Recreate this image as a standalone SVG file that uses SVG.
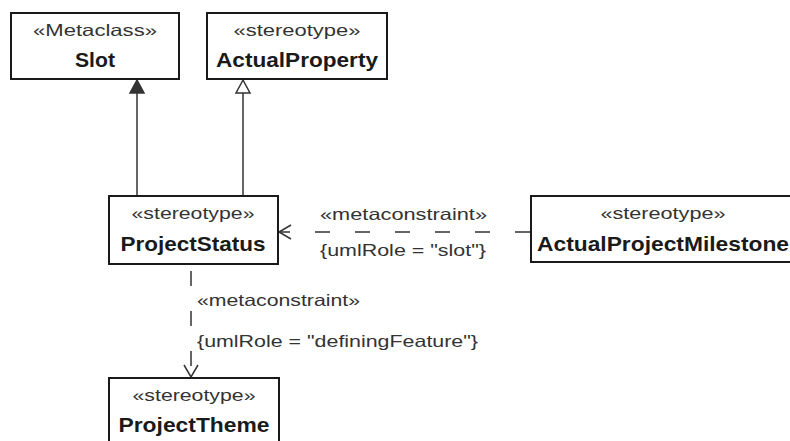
<svg xmlns="http://www.w3.org/2000/svg" width="790" height="441" viewBox="0 0 790 441">
<style>
.box{fill:#ffffff;stroke:#1a1a1a;stroke-width:2}
.st{font-family:"Liberation Sans",Arial,sans-serif;font-size:16.5px;fill:#333333;text-anchor:middle}
.nm{font-family:"Liberation Sans",Arial,sans-serif;font-size:21px;font-weight:bold;fill:#1a1a1a;text-anchor:middle}
.lbl{font-family:"Liberation Sans",Arial,sans-serif;font-size:16.5px;fill:#333333}
.ln{fill:none;stroke:#333333;stroke-width:1.5}
.dash{fill:none;stroke:#333333;stroke-width:1.5;stroke-dasharray:15 25}
</style>
<rect width="790" height="441" fill="#ffffff"/>
<g id="connectors">
<g id="gen-slot">
<line class="ln" x1="137" y1="195" x2="137" y2="93"/>
<polygon points="137,80 130,93 144,93" fill="#333333" stroke="#333333" stroke-width="1.5"/>
</g>
<g id="gen-actualproperty">
<line class="ln" x1="243" y1="195" x2="243" y2="93"/>
<polygon points="243,80 236,93 250,93" fill="#ffffff" stroke="#333333" stroke-width="1.5"/>
</g>
<g id="dep-milestone">
<line class="dash" x1="530" y1="232" x2="279" y2="232"/>
<polyline class="ln" points="291,225 279,232 291,239"/>
<text class="lbl" x="320" y="220" textLength="167" lengthAdjust="spacingAndGlyphs">«metaconstraint»</text>
<text class="lbl" x="320" y="256" textLength="166" lengthAdjust="spacingAndGlyphs">{umlRole = "slot"}</text>
</g>
<g id="dep-theme">
<line class="dash" x1="191" y1="266" x2="191" y2="376" stroke-dashoffset="-5"/>
<polyline class="ln" points="184,365 191,377 198,365"/>
<text class="lbl" x="197" y="306" textLength="163" lengthAdjust="spacingAndGlyphs">«metaconstraint»</text>
<text class="lbl" x="197" y="347" textLength="281" lengthAdjust="spacingAndGlyphs">{umlRole = "definingFeature"}</text>
</g>
</g>
<g id="slot">
<rect class="box" x="11" y="13" width="168" height="66"/>
<text class="st" x="95" y="36" textLength="124" lengthAdjust="spacingAndGlyphs">«Metaclass»</text>
<text class="nm" x="95" y="67" textLength="40" lengthAdjust="spacingAndGlyphs">Slot</text>
</g>
<g id="actualproperty">
<rect class="box" x="207" y="13" width="180" height="66"/>
<text class="st" x="297" y="36" textLength="127" lengthAdjust="spacingAndGlyphs">«stereotype»</text>
<text class="nm" x="297" y="67" textLength="162" lengthAdjust="spacingAndGlyphs">ActualProperty</text>
</g>
<g id="projectstatus">
<rect class="box" x="109" y="196" width="169" height="68"/>
<text class="st" x="193" y="219" textLength="123" lengthAdjust="spacingAndGlyphs">«stereotype»</text>
<text class="nm" x="193" y="251" textLength="145" lengthAdjust="spacingAndGlyphs">ProjectStatus</text>
</g>
<g id="actualprojectmilestone">
<rect class="box" x="531" y="196" width="266" height="66"/>
<text class="st" x="663" y="219" textLength="125" lengthAdjust="spacingAndGlyphs">«stereotype»</text>
<text class="nm" x="663" y="251" textLength="252" lengthAdjust="spacingAndGlyphs">ActualProjectMilestone</text>
</g>
<g id="projecttheme">
<rect class="box" x="109" y="378" width="170" height="70"/>
<text class="st" x="194" y="401" textLength="123" lengthAdjust="spacingAndGlyphs">«stereotype»</text>
<text class="nm" x="194" y="432" textLength="151" lengthAdjust="spacingAndGlyphs">ProjectTheme</text>
</g>
</svg>
